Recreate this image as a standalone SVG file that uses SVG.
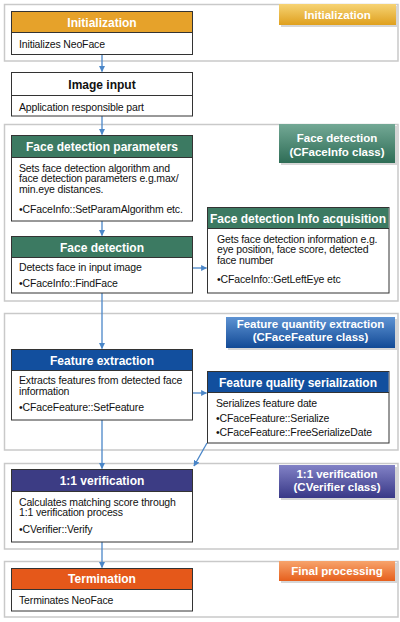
<svg xmlns="http://www.w3.org/2000/svg" width="400" height="622" viewBox="0 0 400 622">
<defs>
<linearGradient id="gY" x1="0" y1="0" x2="0" y2="1"><stop offset="0" stop-color="#F6D374"/><stop offset="1" stop-color="#DFA01E"/></linearGradient>
<linearGradient id="gG" x1="0" y1="0" x2="0" y2="1"><stop offset="0" stop-color="#73A895"/><stop offset="1" stop-color="#2E6D56"/></linearGradient>
<linearGradient id="gB" x1="0" y1="0" x2="0" y2="1"><stop offset="0" stop-color="#5E93D3"/><stop offset="1" stop-color="#124A96"/></linearGradient>
<linearGradient id="gP" x1="0" y1="0" x2="0" y2="1"><stop offset="0" stop-color="#8282C6"/><stop offset="1" stop-color="#383887"/></linearGradient>
<linearGradient id="gO" x1="0" y1="0" x2="0" y2="1"><stop offset="0" stop-color="#F7A46C"/><stop offset="1" stop-color="#E65F1C"/></linearGradient>
<marker id="ah" viewBox="0 0 10 10" refX="9" refY="5" markerWidth="6" markerHeight="6" orient="auto" markerUnits="userSpaceOnUse"><path d="M0,0 L10,5 L0,10 z" fill="#4A86C8"/></marker>
</defs>
<style>
.sec{fill:#fff;stroke:#C9C9C9;stroke-width:1.5}
.node{fill:#fff;stroke:#333;stroke-width:1}
.hd{font-family:"Liberation Sans",Arial,sans-serif;font-weight:bold;font-size:12px;fill:#fff;text-anchor:middle}
.bd{font-family:"Liberation Sans",Arial,sans-serif;font-size:10.5px;fill:#111;letter-spacing:-0.15px}
.bt{font-family:"Liberation Sans",Arial,sans-serif;font-weight:bold;font-size:11.5px;fill:#fff;text-anchor:middle}
.sh{fill:#D6D6D6}
.cn{stroke:#4A86C8;stroke-width:1.3;fill:none;marker-end:url(#ah)}
</style>
<rect width="400" height="622" fill="#fff"/>

<g id="sections">
<rect class="sec" x="4.5" y="4.5" width="393.5" height="56.5"/>
<rect class="sec" x="4.5" y="124.5" width="393.5" height="176.5"/>
<rect class="sec" x="4.5" y="313.5" width="393.5" height="136.5"/>
<rect class="sec" x="4.5" y="463.5" width="393.5" height="85.5"/>
<rect class="sec" x="4.5" y="561.5" width="393.5" height="55.5"/>
</g>

<g id="badges">
<rect class="sh" x="281" y="6" width="117" height="21"/>
<rect x="279" y="4" width="117" height="21" fill="url(#gY)"/>
<text class="bt" x="337.5" y="19">Initialization</text>
<rect class="sh" x="281" y="126" width="116" height="39"/>
<rect x="279" y="124" width="116" height="39" fill="url(#gG)"/>
<text class="bt" x="337" y="142">Face detection</text>
<text class="bt" x="337" y="156">(CFaceInfo class)</text>
<rect class="sh" x="228" y="319" width="169" height="31"/>
<rect x="226" y="317" width="169" height="31" fill="url(#gB)"/>
<text class="bt" x="310.5" y="328">Feature quantity extraction</text>
<text class="bt" x="310.5" y="341">(CFaceFeature class)</text>
<rect class="sh" x="281" y="467" width="116" height="33"/>
<rect x="279" y="465" width="116" height="33" fill="url(#gP)"/>
<text class="bt" x="337" y="478">1:1 verification</text>
<text class="bt" x="337" y="491">(CVerifier class)</text>
<rect class="sh" x="281" y="563" width="116" height="20"/>
<rect x="279" y="561" width="116" height="20" fill="url(#gO)"/>
<text class="bt" x="337" y="575">Final processing</text>
</g>

<g id="connectors">
<line class="cn" x1="102" y1="54" x2="102" y2="71.5"/>
<line class="cn" x1="102" y1="116" x2="102" y2="134.5"/>
<line class="cn" x1="102" y1="221" x2="102" y2="235.5"/>
<line class="cn" x1="192" y1="268" x2="206.5" y2="268"/>
<line class="cn" x1="102" y1="293" x2="102" y2="348.5"/>
<line class="cn" x1="192" y1="393" x2="206.5" y2="393"/>
<line class="cn" x1="102" y1="420" x2="102" y2="468.5"/>
<line class="cn" x1="207" y1="443" x2="194" y2="466"/>
<line class="cn" x1="102" y1="542" x2="102" y2="567.5"/>
</g>

<g id="n-init">
<rect class="node" x="11.5" y="11.5" width="181" height="43"/>
<rect x="12" y="12" width="180" height="20" fill="#E6A22A"/>
<line x1="11.5" y1="32.5" x2="192.5" y2="32.5" stroke="#333"/>
<text class="hd" x="102" y="26.5">Initialization</text>
<text class="bd" x="19" y="47.5">Initializes NeoFace</text>
</g>

<g id="n-input">
<rect class="node" x="11.5" y="72.5" width="181" height="43.5"/>
<line x1="11.5" y1="95.5" x2="192.5" y2="95.5" stroke="#333"/>
<text class="hd" x="102" y="88.5" style="fill:#111">Image input</text>
<text class="bd" x="19" y="110.5">Application responsible part</text>
</g>

<g id="n-params">
<rect class="node" x="11.5" y="135.5" width="181" height="85.5"/>
<rect x="12" y="136" width="180" height="21" fill="#3C7A62"/>
<line x1="11.5" y1="157.5" x2="192.5" y2="157.5" stroke="#333"/>
<text class="hd" x="102" y="150.5">Face detection parameters</text>
<text class="bd" x="19" y="171.5">Sets face detection algorithm and</text>
<text class="bd" x="19" y="182">face detection parameters e.g.max/</text>
<text class="bd" x="19" y="192.5">min.eye distances.</text>
<text class="bd" x="19" y="212.5">•CFaceInfo::SetParamAlgorithm etc.</text>
</g>

<g id="n-detect">
<rect class="node" x="11.5" y="236.5" width="181" height="56.5"/>
<rect x="12" y="237" width="180" height="20" fill="#3C7A62"/>
<line x1="11.5" y1="257.5" x2="192.5" y2="257.5" stroke="#333"/>
<text class="hd" x="102" y="251.5">Face detection</text>
<text class="bd" x="19" y="270.5">Detects face in input image</text>
<text class="bd" x="19" y="286.5">•CFaceInfo::FindFace</text>
</g>

<g id="n-info">
<rect class="node" x="207.5" y="207.5" width="181.5" height="85.5"/>
<rect x="208" y="208" width="180.5" height="20" fill="#3C7A62"/>
<line x1="207.5" y1="228.5" x2="389" y2="228.5" stroke="#333"/>
<text class="hd" x="298" y="222.5">Face detection Info acquisition</text>
<text class="bd" x="217" y="242.5">Gets face detection information e.g.</text>
<text class="bd" x="217" y="253">eye position, face score, detected</text>
<text class="bd" x="217" y="263.5">face number</text>
<text class="bd" x="217" y="282.5">•CFaceInfo::GetLeftEye etc</text>
</g>

<g id="n-feat">
<rect class="node" x="11.5" y="349.5" width="181" height="70.5"/>
<rect x="12" y="350" width="180" height="20" fill="#124F9E"/>
<line x1="11.5" y1="370.5" x2="192.5" y2="370.5" stroke="#333"/>
<text class="hd" x="102" y="364.5">Feature extraction</text>
<text class="bd" x="19" y="384">Extracts features from detected face</text>
<text class="bd" x="19" y="395">information</text>
<text class="bd" x="19" y="410.5">•CFaceFeature::SetFeature</text>
</g>

<g id="n-serial">
<rect class="node" x="207.5" y="371.5" width="181.5" height="71.5"/>
<rect x="208" y="372" width="180.5" height="20" fill="#124F9E"/>
<line x1="207.5" y1="392.5" x2="389" y2="392.5" stroke="#333"/>
<text class="hd" x="298" y="386.5">Feature quality serialization</text>
<text class="bd" x="216" y="406.5">Serializes feature date</text>
<text class="bd" x="216" y="421.5">•CFaceFeature::Serialize</text>
<text class="bd" x="216" y="435.5">•CFaceFeature::FreeSerializeDate</text>
</g>

<g id="n-verify">
<rect class="node" x="11.5" y="469.5" width="181" height="72.5"/>
<rect x="12" y="470" width="180" height="21" fill="#3C3C84"/>
<line x1="11.5" y1="491.5" x2="192.5" y2="491.5" stroke="#333"/>
<text class="hd" x="102" y="484.5">1:1 verification</text>
<text class="bd" x="19" y="505.5">Calculates matching score through</text>
<text class="bd" x="19" y="516">1:1 verification process</text>
<text class="bd" x="19" y="532.5">•CVerifier::Verify</text>
</g>

<g id="n-term">
<rect class="node" x="11.5" y="568.5" width="181" height="42.5"/>
<rect x="12" y="569" width="180" height="20" fill="#E5581A"/>
<line x1="11.5" y1="589.5" x2="192.5" y2="589.5" stroke="#333"/>
<text class="hd" x="102" y="582.5">Termination</text>
<text class="bd" x="19" y="603.5">Terminates NeoFace</text>
</g>
</svg>
